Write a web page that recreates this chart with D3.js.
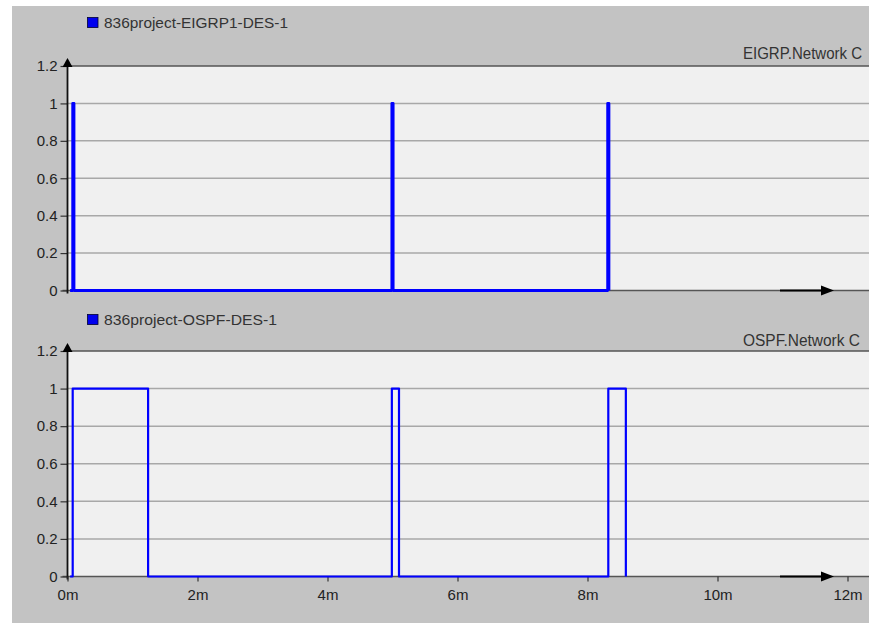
<!DOCTYPE html>
<html><head><meta charset="utf-8">
<script src="https://cdn.jsdelivr.net/npm/d3@7/dist/d3.min.js"></script>
<style>body{margin:0;background:#fff;}svg{display:block;font-family:Arial,"Liberation Sans",sans-serif;}</style>
</head><body>
<script>
const seriesNames = ["836project-EIGRP1-DES-1", "836project-OSPF-DES-1"];
const panelTitles = ["EIGRP.Network C", "OSPF.Network C"];
const yTicks = [0, 0.2, 0.4, 0.6, 0.8, 1, 1.2];
const xTicks = [0, 2, 4, 6, 8, 10, 12];
const xTickLabels = ["0m", "2m", "4m", "6m", "8m", "10m", "12m"];
// time in minutes, value
const eigrpTime  = [0.04, 0.08, 0.08, 0.10, 0.10, 4.99, 4.99, 5.01, 5.01, 8.31, 8.31, 8.33, 8.33];
const eigrpValue = [0,    0,    1,    1,    0,    0,    1,    1,    0,    0,    1,    1,    0];
const ospfTime  = [0.04, 0.08, 0.08, 1.24, 1.24, 4.99, 4.99, 5.10, 5.10, 8.32, 8.32, 8.59, 8.59];
const ospfValue = [0,    0,    1,    1,    0,    0,    1,    1,    0,    0,    1,    1,    0];

const W = 869, H = 623;
const FONT = "Arial, 'Liberation Sans', sans-serif";
const svg = d3.select("body").append("svg").attr("width", W).attr("height", H);
svg.append("rect").attr("x", 12).attr("y", 6).attr("width", W - 12).attr("height", H - 6).attr("fill", "#c3c3c3");

const x = d3.scaleLinear().domain([0, 12]).range([67.5, 847.5]);
const panels = [
  {top: 66, bottom: 290.5, legendY: 28, legendW: 184, titleY: 58.5, titleW: 119, t: eigrpTime, v: eigrpValue, sw: 2.8, showX: false},
  {top: 351, bottom: 576.5, legendY: 325, legendW: 173, titleY: 345.5, titleW: 117, t: ospfTime, v: ospfValue, sw: 2.2, showX: true}
];

panels.forEach((p, i) => {
  const y = d3.scaleLinear().domain([0, 1.2]).range([p.bottom, p.top]);
  const g = svg.append("g");
  g.append("rect").attr("x", x(0)).attr("y", y(1.2)).attr("width", W - x(0)).attr("height", y(0) - y(1.2)).attr("fill", "#f0f0f0");
  g.selectAll(".grid").data(yTicks.filter(d => d > 0 && d < 1.2)).join("line")
    .attr("x1", x(0)).attr("x2", W).attr("y1", d => y(d)).attr("y2", d => y(d))
    .attr("stroke", "#a8a8a8").attr("stroke-width", 1.5);
  g.append("line").attr("x1", x(0)).attr("x2", W).attr("y1", y(1.2)).attr("y2", y(1.2)).attr("stroke", "#555").attr("stroke-width", 1.6);
  g.append("line").attr("x1", x(0) - 5).attr("x2", W).attr("y1", y(0)).attr("y2", y(0)).attr("stroke", "#555").attr("stroke-width", 1.6);
  const yAxis = d3.axisLeft(y).tickValues(yTicks).tickSize(7).tickFormat(d => d3.format("~g")(d));
  const ya = g.append("g").attr("transform", `translate(${x(0)},0)`).call(yAxis);
  ya.select(".domain").remove();
  ya.selectAll(".tick line").attr("stroke", "#333").attr("stroke-width", 1.2);
  ya.selectAll(".tick text").attr("font-size", 15).attr("fill", "#222").attr("font-family", FONT).attr("x", -10);
  g.append("line").attr("x1", x(0)).attr("x2", x(0)).attr("y1", y(0) + 3).attr("y2", y(1.2) - 2).attr("stroke", "#111").attr("stroke-width", 1.8);
  g.append("path").attr("d", `M${x(0)},${y(1.2) - 8} L${x(0) - 5},${y(1.2) + 1} L${x(0) + 5},${y(1.2) + 1} Z`).attr("fill", "#000");
  g.append("line").attr("x1", 780).attr("x2", 826).attr("y1", y(0)).attr("y2", y(0)).attr("stroke", "#000").attr("stroke-width", 2);
  g.append("path").attr("d", `M${834},${y(0)} L${821},${y(0) - 5} L${821},${y(0) + 5} Z`).attr("fill", "#000");
  if (p.showX) {
    const xAxis = d3.axisBottom(x).tickValues(xTicks).tickSize(5).tickFormat((d, k) => xTickLabels[k]);
    const xa = g.append("g").attr("transform", `translate(0,${y(0)})`).call(xAxis);
    xa.select(".domain").remove();
    xa.selectAll(".tick line").attr("stroke", "#333").attr("stroke-width", 1.2);
    xa.selectAll(".tick text").attr("font-size", 15).attr("fill", "#222").attr("font-family", FONT).attr("y", 9).attr("dy", "0.95em");
  }
  const line = d3.line().x(d => x(d[0])).y(d => y(d[1]));
  const pts = p.t.map((tt, k) => [tt, p.v[k]]);
  g.append("path").attr("d", line(pts)).attr("fill", "none").attr("stroke", "#0000ff").attr("stroke-width", p.sw).attr("stroke-linejoin", "round");
  g.append("rect").attr("x", 87.5).attr("y", p.legendY - 10.5).attr("width", 10.5).attr("height", 10).attr("fill", "#0000ee").attr("stroke", "#000033").attr("stroke-width", 0.8);
  g.append("text").attr("x", 104).attr("y", p.legendY).attr("font-size", 15).attr("fill", "#333").attr("font-family", FONT).attr("textLength", p.legendW).attr("lengthAdjust", "spacingAndGlyphs").text(seriesNames[i]);
  g.append("text").attr("x", 743).attr("y", p.titleY).attr("font-size", 16).attr("fill", "#333").attr("font-family", FONT).attr("textLength", p.titleW).attr("lengthAdjust", "spacingAndGlyphs").text(panelTitles[i]);
});
</script>
</body></html>
